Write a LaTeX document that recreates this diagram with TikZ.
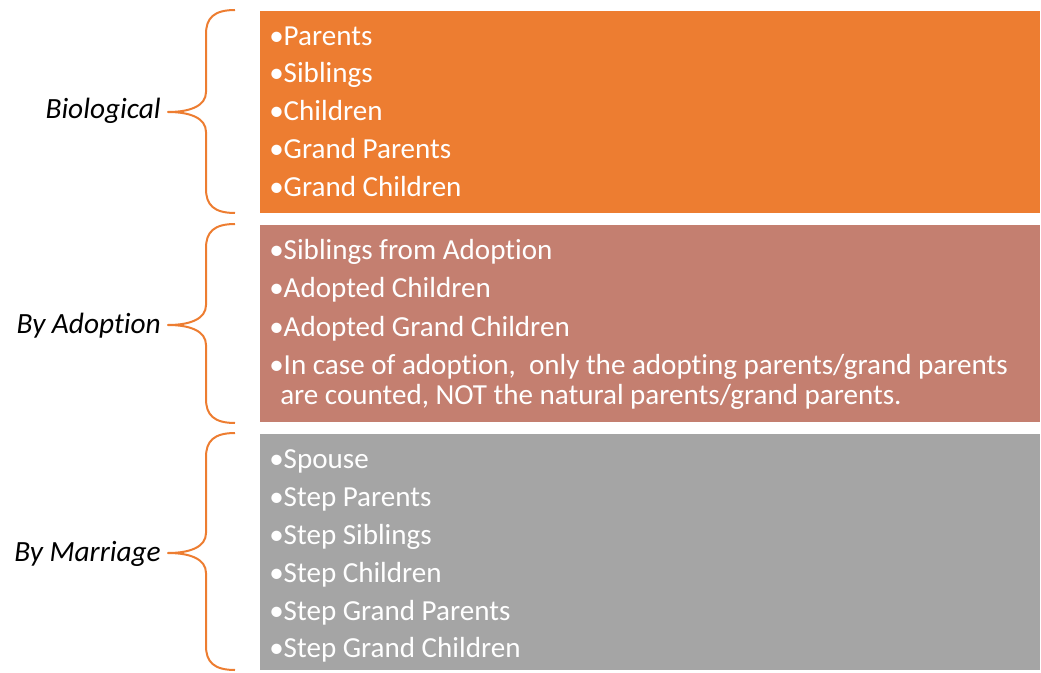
\documentclass[tikz,border=0pt]{standalone}
\usepackage{fontspec}
\setmainfont{Carlito}[Ligatures=NoCommon]
\definecolor{borange}{HTML}{ED7D31}
\definecolor{bsalmon}{HTML}{C47F70}
\definecolor{bgray}{HTML}{A5A5A5}
\begin{document}
\begin{tikzpicture}[x=0.75pt,y=-0.75pt,
  boxitem/.style={anchor=base west,inner sep=0pt,text=white,font=\fontsize{21.8pt}{26pt}\selectfont},
  grouplabel/.style={anchor=base east,inner sep=0pt,text=black,font=\fontsize{22pt}{26pt}\selectfont\itshape},
  bracepath/.style={draw=borange,line width=1.5pt,line join=round}]
\useasboundingbox (0,0) rectangle (1041,673);
% boxes
\fill[borange] (260,11) rectangle (1040,213);
\fill[bsalmon] (260,225) rectangle (1040,422);
\fill[bgray] (260,434) rectangle (1040,670);
% braces
\newcommand{\grpbrace}[3]{%
  \draw[bracepath] (235,#1) .. controls (214,#1) and (206,{#1+8}) .. (206,{#1+24})
    -- (206,{#3-20}) .. controls (206,{#3-6}) and (190,#3) .. (168,#3)
    .. controls (190,#3) and (206,{#3+6}) .. (206,{#3+20})
    -- (206,{#2-24}) .. controls (206,{#2-8}) and (214,#2) .. (235,#2);}
\grpbrace{10}{213}{112}
\grpbrace{224}{423}{325}
\grpbrace{433}{670}{553}
% labels
\node[grouplabel] (lbio) at (161,119) {Biological};
\node[grouplabel] (ladopt) at (161,333) {By Adoption};
\node[grouplabel] (lmarr) at (161,561) {By Marriage};
% box 1
\node[boxitem] (b1) at (269,46) {•Parents};
\node[boxitem] (b2) at (269,83) {•Siblings};
\node[boxitem] (b3) at (269,121) {•Children};
\node[boxitem] (b4) at (269,159) {•Grand Parents};
\node[boxitem] (b5) at (269,197) {•Grand Children};
% box 2
\node[boxitem] (a1) at (269,260) {•Siblings from Adoption};
\node[boxitem] (a2) at (269,298) {•Adopted Children};
\node[boxitem] (a3) at (269,336) {•Adopted Grand Children};
\node[boxitem] (a4) at (269,374) {•In case of adoption,\ \ only the adopting parents/grand parents};
\node[boxitem] (a5) at (280,404) {are counted, NOT the natural parents/grand parents.};
% box 3
\node[boxitem] (m1) at (269,468) {•Spouse};
\node[boxitem] (m2) at (269,506) {•Step Parents};
\node[boxitem] (m3) at (269,544) {•Step Siblings};
\node[boxitem] (m4) at (269,582) {•Step Children};
\node[boxitem] (m5) at (269,620) {•Step Grand Parents};
\node[boxitem] (m6) at (269,657) {•Step Grand Children};
\end{tikzpicture}
\end{document}
